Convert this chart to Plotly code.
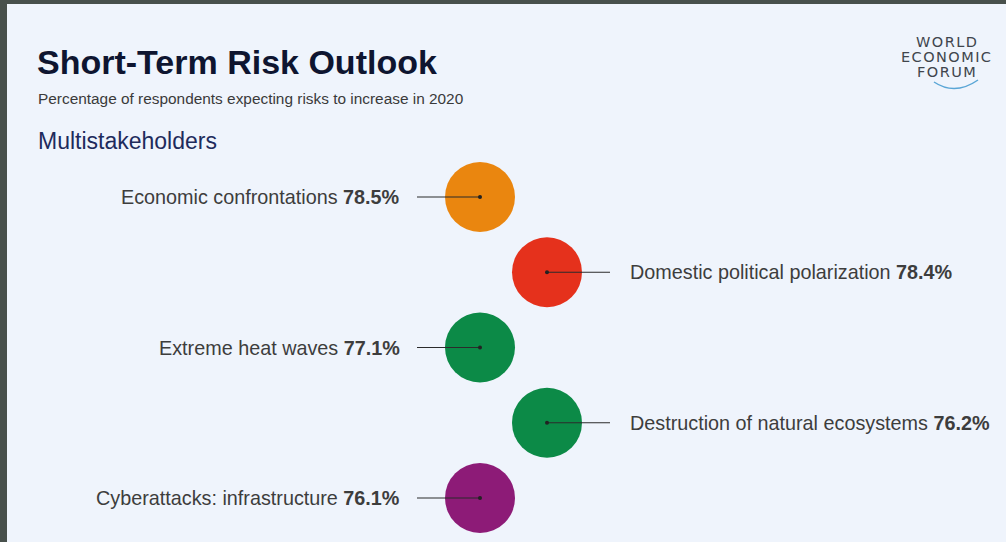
import plotly.graph_objects as go

risks = ["Economic confrontations", "Domestic political polarization",
         "Extreme heat waves", "Destruction of natural ecosystems",
         "Cyberattacks: infrastructure"]
values = [78.5, 78.4, 77.1, 76.2, 76.1]
colors = ["#ea860f", "#e5311c", "#0c8a47", "#0c8a47", "#8d1b77"]
sides = ["left", "right", "left", "right", "left"]

W, H = 1006, 542
PX_X = 67.0   # pixels per x unit
PX_Y = 75.25  # pixels per y unit
x0 = -480 / PX_X
y0 = -197 / PX_Y

xs = [0 if s == "left" else 1 for s in sides]
ys = list(range(len(risks)))

FONT = "Liberation Sans, Arial, sans-serif"

fig = go.Figure()

# circles
fig.add_trace(go.Scatter(
    x=xs, y=ys, mode="markers",
    marker=dict(size=70, color=colors, line=dict(width=0)),
    hoverinfo="skip", showlegend=False))

# leader lines
lx, ly = [], []
for x, y, s in zip(xs, ys, sides):
    end = x - 63 / PX_X if s == "left" else x + 63 / PX_X
    lx += [end, x, None]
    ly += [y, y, None]
fig.add_trace(go.Scatter(x=lx, y=ly, mode="lines",
                         line=dict(color="#2b2b2b", width=1.2),
                         hoverinfo="skip", showlegend=False))
fig.add_trace(go.Scatter(x=xs, y=ys, mode="markers",
                         marker=dict(size=4, color="#222222"),
                         hoverinfo="skip", showlegend=False))

for x, y, s, r, v in zip(xs, ys, sides, risks, values):
    if s == "left":
        ax, anc = x - 78 / PX_X, "right"
    else:
        ax, anc = x + 81 / PX_X, "left"
    fig.add_annotation(x=ax, y=y, xref="x", yref="y",
                       text=f"{r} <b>{v:.1f}%</b>", showarrow=False,
                       xanchor=anc, yanchor="middle",
                       font=dict(family=FONT, size=19.8, color="#3d3d3d"))

def px(p):
    return p / W

def py(p):
    return 1 - p / H

# titles
fig.add_annotation(x=px(35), y=py(62), xref="paper", yref="paper",
                   text="<b>Short-Term Risk Outlook</b>", showarrow=False,
                   xanchor="left", yanchor="middle",
                   font=dict(family=FONT, size=34, color="#0e1530"))
fig.add_annotation(x=px(36), y=py(99), xref="paper", yref="paper",
                   text="Percentage of respondents expecting risks to increase in 2020",
                   showarrow=False, xanchor="left", yanchor="middle",
                   font=dict(family=FONT, size=15.4, color="#3a3a3a"))
fig.add_annotation(x=px(36), y=py(141), xref="paper", yref="paper",
                   text="Multistakeholders", showarrow=False,
                   xanchor="left", yanchor="middle",
                   font=dict(family=FONT, size=23, color="#1e2b5c"))

# logo
for txt, yy in [("WORLD", 42), ("ECONOMIC", 57), ("FORUM", 72)]:
    fig.add_annotation(x=px(946), y=py(yy), xref="paper", yref="paper",
                       text="\u200a".join(txt), showarrow=False,
                       xanchor="center", yanchor="middle",
                       font=dict(family="DejaVu Sans, sans-serif", size=14.5, color="#40454d"))

shapes = [
    dict(type="path", xref="paper", yref="paper",
         path=f"M {px(934)} {py(82)} Q {px(955)} {py(96)} {px(978)} {py(80)}",
         line=dict(color="#5aa6d6", width=1.5)),
    dict(type="rect", xref="paper", yref="paper", x0=0, x1=1, y0=py(4), y1=1,
         fillcolor="#48504c", line=dict(width=0), layer="above"),
    dict(type="rect", xref="paper", yref="paper", x0=0, x1=px(7), y0=0, y1=1,
         fillcolor="#48504c", line=dict(width=0), layer="above"),
]

fig.update_layout(
    width=W, height=H,
    margin=dict(l=0, r=0, t=0, b=0),
    paper_bgcolor="#eff4fc", plot_bgcolor="#eff4fc",
    xaxis=dict(range=[x0, x0 + W / PX_X], visible=False, fixedrange=True),
    yaxis=dict(range=[y0 + H / PX_Y, y0], visible=False, fixedrange=True),
    shapes=shapes,
    showlegend=False,
)

fig.write_html("out.html", config={"displayModeBar": False},
               post_script="document.body.style.margin='0';document.body.style.overflow='hidden';")
